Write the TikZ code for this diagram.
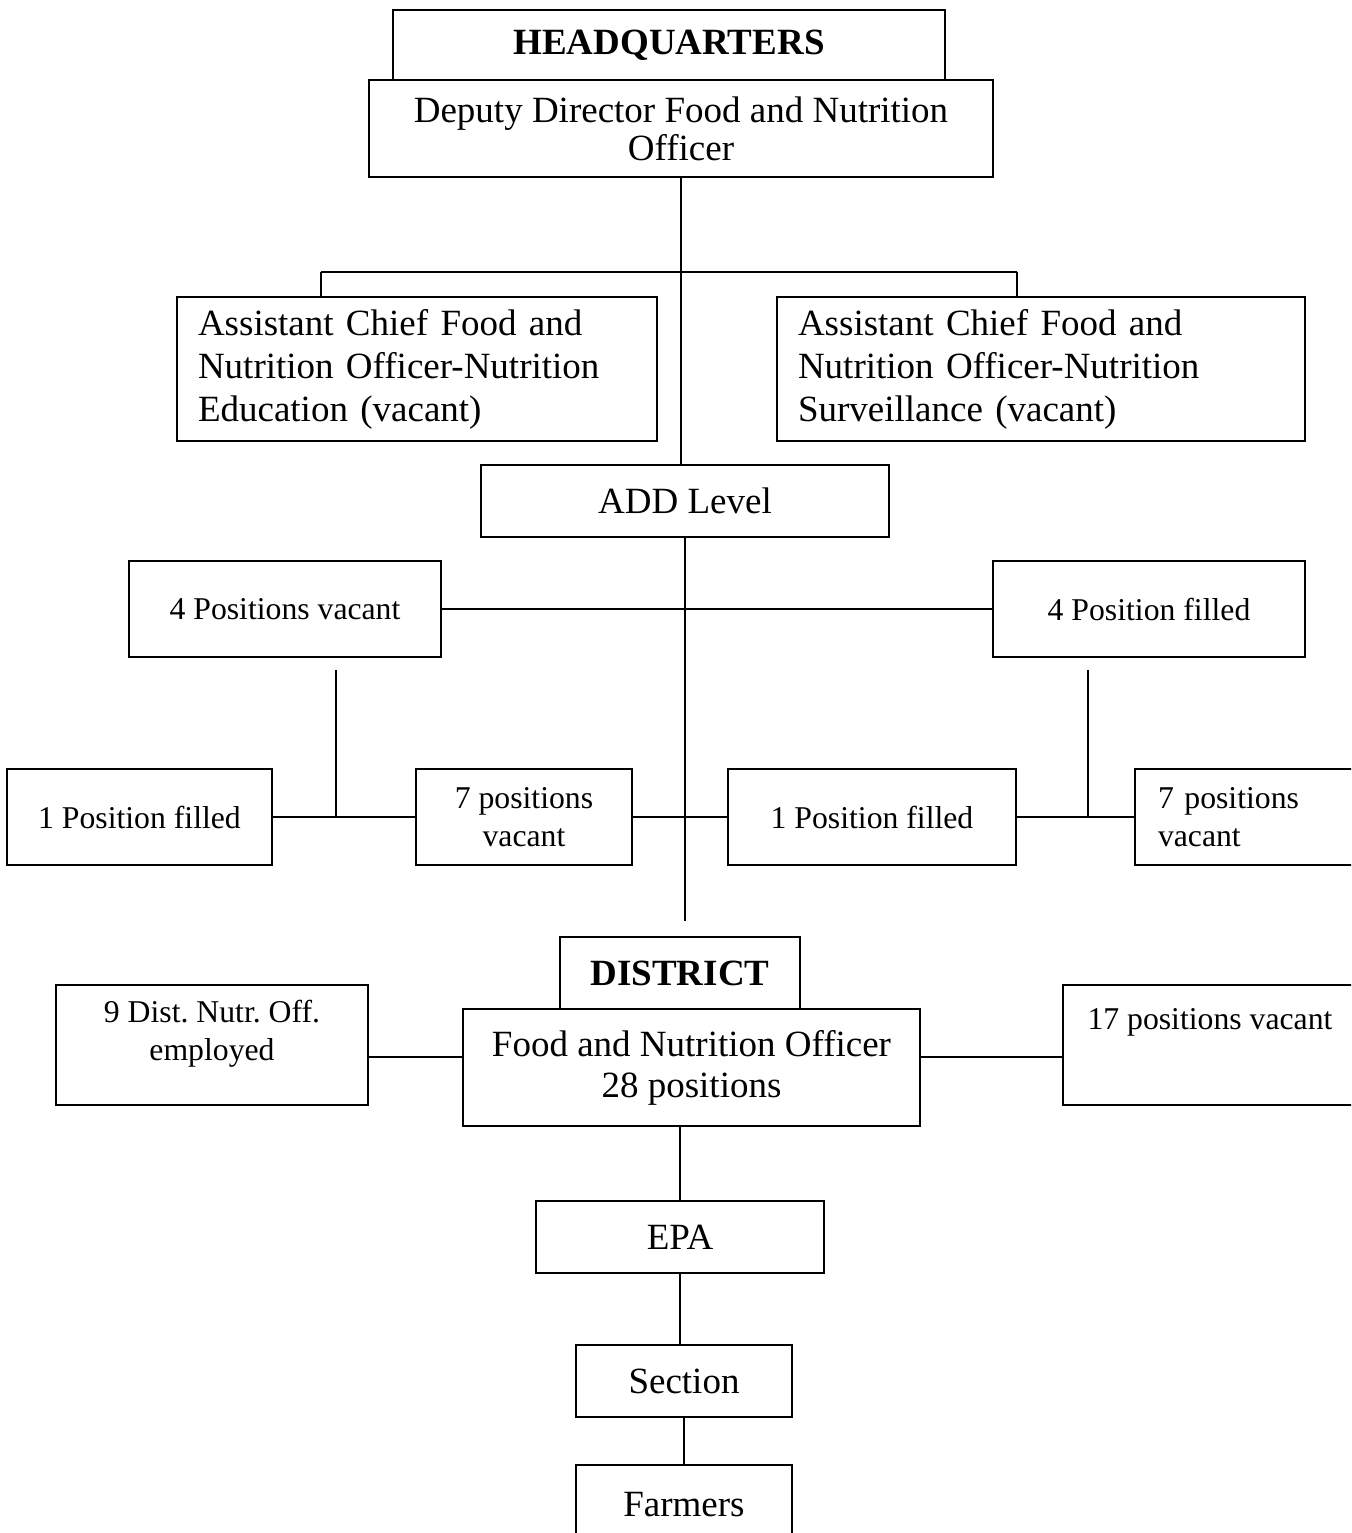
\documentclass[tikz,border=0pt]{standalone}
\usepackage{fontspec}
\setmainfont{Liberation Serif}
\usetikzlibrary{calc}
\frenchspacing
\tikzset{
    box/.style={draw, line width=0.8pt, inner sep=0pt, align=center, font=\fontsize{14}{16}\selectfont},
    smallbox/.style={box, font=\fontsize{12}{14.2}\selectfont},
    wh/.style 2 args={minimum width=#1*0.3784pt, minimum height=#2*0.3784pt},
    link/.style={line width=0.8pt},
}
\begin{document}
\begin{tikzpicture}[x=0.3784pt, y=-0.3784pt]
            \useasboundingbox (0,0) rectangle (1351,1533);
            \clip (0,0) rectangle (1351,1533);
            % Headquarters
            \node[box, wh={552}{70}, font=\fontsize{14}{16}\selectfont\bfseries] (hq) at (669,45) {HEADQUARTERS};
            \node[box, wh={624}{97}, fill=white, font=\fontsize{14}{14.4}\selectfont] (dep) at (681,128.5) {Deputy Director Food and Nutrition\\Officer};
            \node[box, wh={480}{144}, align=left, text width=438*0.3784pt, inner xsep=21*0.3784pt, font=\fontsize{14}{16.3}\selectfont] (asl) at (417,369) {Assistant Chief Food and\\Nutrition Officer-Nutrition\\Education (vacant)};
            \node[box, wh={528}{144}, align=left, text width=486*0.3784pt, inner xsep=21*0.3784pt, font=\fontsize{14}{16.3}\selectfont] (asr) at (1041,369) {Assistant Chief Food and\\Nutrition Officer-Nutrition\\Surveillance (vacant)};
            % ADD level
            \node[box, wh={408}{72}] (add) at (685,501) {ADD Level};
            \node[smallbox, wh={312}{96}] (pv4) at (285,609) {4 Positions vacant};
            \node[smallbox, wh={312}{96}] (pf4) at (1149,609) {4 Position filled};
            \node[smallbox, wh={265}{96}] (pf1l) at (139.5,817) {1 Position filled};
            \node[smallbox, wh={216}{96}] (nv7l) at (524,817) {7 positions\\vacant};
            \node[smallbox, wh={288}{96}] (pf1r) at (872,817) {1 Position filled};
            \node[smallbox, wh={230}{96}, align=left, text width=184*0.3784pt, inner xsep=23*0.3784pt] (nv7r) at (1250,817) {7 positions\\vacant};
            % District
            \node[box, wh={240}{72}, font=\fontsize{14}{16}\selectfont\bfseries] (dist) at (680,973) {DISTRICT};
            \node[box, wh={457}{117}, font=\fontsize{14}{15.5}\selectfont] (fno) at (691.5,1067.5) {Food and Nutrition Officer\\28 positions};
            \node[smallbox, wh={312}{120}] (nine) at (212,1045) {};
            \node[inner sep=0pt, align=center, font=\fontsize{12}{14.2}\selectfont] (ninetxt) at (212,1034) {9 Dist. Nutr. Off.\\employed};
            \node[smallbox, wh={302}{120}] (v17) at (1214,1045) {};
            \node[anchor=west, inner sep=0pt, font=\fontsize{12}{14.2}\selectfont] (v17txt) at (1087,1022) {17 positions vacant};
            \node[box, wh={288}{72}] (epa) at (680,1237) {EPA};
            \node[box, wh={216}{72}] (sec) at (684,1381) {Section};
            \node[box, wh={216}{80}] (farm) at (684,1505) {Farmers};

            % HQ links
            \coordinate (brkL) at (321,272);
            \coordinate (brkR) at (1017,272);
            \draw[link] (dep.south) -- (dep.south |- add.north);
            \draw[link] (brkL) -- (brkR);
            \draw[link] (brkL) -- (brkL |- asl.north);
            \draw[link] (brkR) -- (brkR |- asr.north);
            % ADD links
            \coordinate (addend) at ($(add.south)+(0,383)$);
            \coordinate (dropL) at (336,670);
            \coordinate (dropR) at (1088,670);
            \draw[link] (add.south) -- (addend);
            \draw[link] (pv4.east) -- (pf4.west);
            \draw[link] (pf1l.east) -- (nv7l.west);
            \draw[link] (nv7l.east) -- (pf1r.west);
            \draw[link] (pf1r.east) -- (nv7r.west);
            \draw[link] (dropL) -- (dropL |- pf1l.east);
            \draw[link] (dropR) -- (dropR |- pf1r.east);
            % District links
            \coordinate (dl) at ($(nine.north east)!0.6!(nine.south east)$);
            \draw[link] (dl) -- (dl -| fno.west);
            \draw[link] (dl -| fno.east) -- (dl -| v17.west);
            \draw[link] (epa.north |- fno.south) -- (epa.north);
            \foreach \a/\b in {epa/sec, sec/farm} {
                    \draw[link] (\a.south) -- (\a.south |- \b.north);
                }
        \end{tikzpicture}
\end{document}
